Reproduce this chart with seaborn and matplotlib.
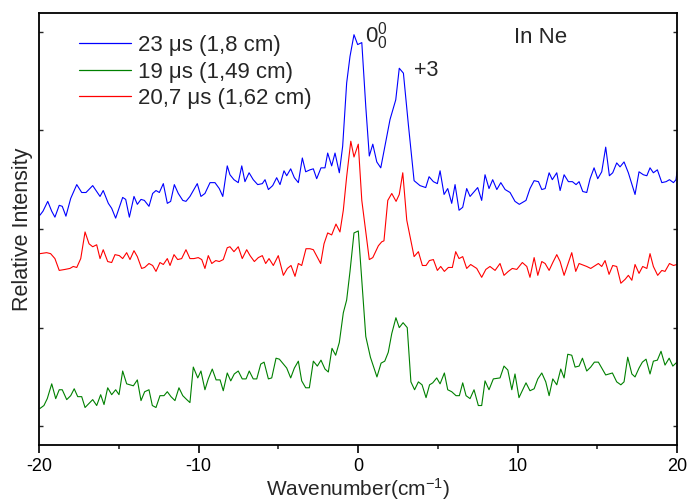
import matplotlib
matplotlib.use("Agg")
import matplotlib.pyplot as plt
from matplotlib.lines import Line2D
import numpy as np
import pandas as pd
import seaborn as sns

# ---------------- data ----------------
labels = ["23 \u03bcs (1,8 cm)", "19 \u03bcs (1,49 cm)", "20,7 \u03bcs (1,62 cm)"]
colors = ["#0000FF", "#008000", "#FF0000"]

blue_x = [-19.96, -19.77, -19.47, -19.22, -19.02, -18.75, -18.56, -18.33, -18.03, -17.65,
          -17.34, -17.07, -16.65, -16.19, -15.99, -15.67, -15.46, -15.21, -14.77, -14.58,
          -14.35, -14.06, -13.85, -13.62, -13.41, -13.12, -12.89, -12.68, -12.47, -12.22,
          -11.97, -11.76, -11.53, -11.28, -11.00, -10.80, -10.55, -10.09, -9.86, -9.61,
          -9.29, -8.98, -8.71, -8.49, -8.21, -8.04, -7.79, -7.52, -7.30, -7.10,
          -6.84, -6.58, -6.30, -6.01, -5.84, -5.63, -5.36, -5.11, -4.90, -4.65,
          -4.48, -4.23, -4.00, -3.75, -3.50, -3.29, -3.02, -2.81, -2.60, -2.33,
          -2.08, -1.91, -1.66, -1.45, -1.18, -0.97, -0.72, -0.51, -0.26, -0.03,
          0.23, 0.48, 0.70, 0.92, 1.17, 1.42, 1.69, 2.00, 2.36, 2.58,
          2.84, 3.15, 3.51, 3.88, 4.24, 4.45, 4.72, 4.97, 5.14, 5.39,
          5.62, 5.87, 6.08, 6.33, 6.56, 6.81, 7.02, 7.50, 7.75, 7.96,
          8.21, 8.44, 8.70, 8.95, 9.22, 9.53, 9.84, 10.11, 10.53, 10.78,
          11.04, 11.31, 11.52, 11.73, 11.98, 12.18, 12.46, 12.67, 12.92, 13.19,
          13.44, 13.67, 13.86, 14.09, 14.34, 14.55, 14.80, 15.03, 15.28, 15.53,
          15.76, 15.97, 16.22, 16.43, 16.68, 16.95, 17.12, 17.37, 17.62, 17.89,
          18.11, 18.31, 18.52, 18.77, 19.05, 19.32, 19.53, 19.78, 19.94, 20.00]
blue_y = [2.14, 2.18, 2.28, 2.18, 2.12, 2.24, 2.23, 2.13, 2.31, 2.45,
          2.37, 2.37, 2.44, 2.33, 2.39, 2.26, 2.21, 2.11, 2.32, 2.30,
          2.12, 2.33, 2.25, 2.30, 2.29, 2.23, 2.36, 2.39, 2.37, 2.46,
          2.26, 2.28, 2.45, 2.36, 2.29, 2.28, 2.33, 2.46, 2.33, 2.36,
          2.47, 2.47, 2.41, 2.33, 2.64, 2.55, 2.50, 2.47, 2.64, 2.48,
          2.57, 2.50, 2.45, 2.46, 2.50, 2.40, 2.44, 2.52, 2.45, 2.59,
          2.54, 2.61, 2.52, 2.47, 2.72, 2.58, 2.60, 2.61, 2.51, 2.62,
          2.62, 2.77, 2.64, 2.77, 2.57, 2.84, 3.48, 3.75, 3.97, 3.87,
          3.89, 3.24, 2.74, 2.86, 2.68, 2.62, 2.85, 3.11, 3.31, 3.63,
          3.58, 3.06, 2.49, 2.44, 2.42, 2.53, 2.48, 2.46, 2.59, 2.35,
          2.41, 2.26, 2.45, 2.19, 2.22, 2.41, 2.33, 2.42, 2.29, 2.55,
          2.41, 2.50, 2.40, 2.47, 2.40, 2.37, 2.28, 2.25, 2.29, 2.41,
          2.49, 2.48, 2.40, 2.41, 2.57, 2.50, 2.57, 2.39, 2.55, 2.48,
          2.48, 2.45, 2.48, 2.38, 2.37, 2.51, 2.62, 2.51, 2.58, 2.83,
          2.54, 2.57, 2.67, 2.63, 2.68, 2.57, 2.48, 2.35, 2.58, 2.55,
          2.54, 2.62, 2.57, 2.60, 2.47, 2.48, 2.50, 2.47, 2.50, 2.58]

red_x = [-19.96, -19.54, -19.29, -19.02, -18.75, -18.39, -18.08, -17.87, -17.65, -17.40,
         -17.13, -16.88, -16.65, -16.40, -16.19, -15.99, -15.71, -15.46, -15.25, -14.98,
         -14.77, -14.52, -14.31, -14.06, -13.85, -13.58, -13.39, -13.12, -12.89, -12.68,
         -12.43, -12.22, -11.97, -11.80, -11.55, -11.32, -11.07, -10.80, -10.55, -10.30,
         -10.03, -9.81, -9.61, -9.40, -9.18, -8.93, -8.71, -8.46, -8.21, -8.04,
         -7.79, -7.52, -7.27, -6.99, -6.78, -6.51, -6.26, -6.01, -5.80, -5.59,
         -5.32, -5.01, -4.69, -4.44, -4.21, -3.96, -3.75, -3.54, -3.27, -3.02,
         -2.81, -2.35, -2.14, -1.91, -1.66, -1.39, -1.14, -0.93, -0.72, -0.46,
         -0.26, 0.01, 0.23, 0.70, 0.92, 1.27, 1.48, 1.62, 1.86, 2.11,
         2.38, 2.58, 2.80, 3.05, 3.51, 3.78, 4.03, 4.26, 4.47, 4.72,
         4.97, 5.18, 5.41, 5.66, 5.91, 6.12, 6.33, 6.56, 6.81, 7.06,
         7.44, 7.75, 8.01, 8.27, 8.59, 8.90, 9.15, 9.42, 9.67, 9.95,
         10.30, 10.58, 10.78, 11.04, 11.27, 11.52, 11.73, 11.98, 12.21, 12.46,
         12.67, 12.92, 13.13, 13.40, 13.65, 13.86, 14.34, 14.59, 15.07, 15.28,
         15.49, 15.74, 15.97, 16.22, 16.48, 16.75, 16.95, 17.17, 17.37, 17.62,
         17.85, 18.11, 18.31, 18.52, 18.79, 19.05, 19.25, 19.53, 19.78, 20.00]
red_y = [1.75, 1.76, 1.75, 1.70, 1.58, 1.59, 1.60, 1.62, 1.61, 1.70,
         1.97, 1.85, 1.82, 1.84, 1.70, 1.79, 1.67, 1.66, 1.74, 1.73,
         1.70, 1.76, 1.69, 1.78, 1.72, 1.60, 1.61, 1.65, 1.63, 1.57,
         1.66, 1.64, 1.70, 1.63, 1.74, 1.69, 1.70, 1.79, 1.70, 1.70,
         1.71, 1.69, 1.60, 1.73, 1.65, 1.68, 1.67, 1.69, 1.81, 1.82,
         1.77, 1.82, 1.70, 1.79, 1.73, 1.67, 1.71, 1.73, 1.65, 1.70,
         1.63, 1.73, 1.53, 1.60, 1.63, 1.52, 1.65, 1.63, 1.80, 1.80,
         1.79, 1.65, 1.85, 1.96, 1.94, 2.05, 1.97, 2.19, 2.53, 2.89,
         2.73, 2.86, 2.29, 1.69, 1.71, 1.83, 1.87, 1.88, 2.29, 2.36,
         2.28, 2.35, 2.57, 2.09, 1.72, 1.77, 1.63, 1.63, 1.68, 1.69,
         1.58, 1.62, 1.57, 1.61, 1.61, 1.77, 1.70, 1.72, 1.60, 1.64,
         1.60, 1.51, 1.59, 1.62, 1.58, 1.65, 1.53, 1.57, 1.60, 1.59,
         1.66, 1.62, 1.51, 1.71, 1.53, 1.67, 1.65, 1.58, 1.66, 1.74,
         1.67, 1.53, 1.63, 1.76, 1.57, 1.65, 1.62, 1.60, 1.65, 1.62,
         1.68, 1.54, 1.63, 1.62, 1.45, 1.49, 1.53, 1.48, 1.64, 1.55,
         1.62, 1.60, 1.75, 1.62, 1.53, 1.58, 1.57, 1.65, 1.63, 1.64]

green_x = [-19.96, -19.71, -19.50, -19.22, -18.97, -18.75, -18.56, -18.28, -18.03, -17.81,
           -17.59, -17.34, -17.13, -16.65, -16.40, -16.15, -15.94, -15.71, -15.46, -15.21,
           -15.00, -14.77, -14.52, -14.10, -13.85, -13.62, -13.39, -13.12, -12.91, -12.68,
           -12.43, -12.18, -11.97, -11.74, -11.49, -11.24, -11.00, -10.75, -10.55, -10.34,
           -10.06, -9.86, -9.61, -9.40, -9.15, -8.91, -8.66, -8.46, -8.21, -7.99,
           -7.77, -7.52, -7.27, -7.03, -6.83, -6.58, -6.36, -6.11, -5.90, -5.63,
           -5.42, -5.15, -4.94, -4.48, -4.23, -4.00, -3.75, -3.54, -3.29, -3.06,
           -2.81, -2.56, -2.33, -2.08, -1.87, -1.64, -1.41, -1.18, -0.93, -0.72,
           -0.51, -0.26, 0.01, 0.23, 0.48, 0.77, 1.18, 1.44, 1.67, 1.89,
           2.11, 2.37, 2.58, 2.82, 3.08, 3.31, 3.54, 3.78, 4.01, 4.26,
           4.48, 4.68, 4.93, 5.14, 5.41, 5.62, 5.87, 6.14, 6.35, 6.56,
           6.77, 7.02, 7.27, 7.54, 7.75, 7.96, 8.21, 8.48, 8.90, 9.15,
           9.39, 9.64, 9.84, 10.09, 10.53, 10.78, 11.04, 11.27, 11.52, 11.77,
           11.98, 12.21, 12.46, 12.71, 12.92, 13.15, 13.40, 13.61, 13.86, 14.07,
           14.34, 14.59, 14.82, 15.07, 15.53, 15.95, 16.22, 16.48, 16.68, 16.91,
           17.17, 17.37, 17.62, 17.83, 18.06, 18.31, 18.52, 18.77, 19.00, 19.25,
           19.51, 19.74, 20.00]
green_y = [0.18, 0.21, 0.28, 0.43, 0.28, 0.37, 0.37, 0.27, 0.31, 0.38,
           0.30, 0.30, 0.19, 0.27, 0.21, 0.32, 0.22, 0.39, 0.32, 0.37,
           0.32, 0.56, 0.43, 0.41, 0.47, 0.26, 0.35, 0.37, 0.21, 0.19,
           0.31, 0.31, 0.35, 0.30, 0.26, 0.39, 0.31, 0.27, 0.24, 0.60,
           0.49, 0.56, 0.37, 0.48, 0.58, 0.47, 0.47, 0.36, 0.54, 0.46,
           0.53, 0.56, 0.48, 0.48, 0.56, 0.48, 0.48, 0.63, 0.65, 0.48,
           0.49, 0.69, 0.68, 0.59, 0.49, 0.59, 0.66, 0.46, 0.39, 0.39,
           0.66, 0.61, 0.67, 0.58, 0.55, 0.79, 0.72, 0.85, 1.15, 1.28,
           1.57, 1.96, 1.98, 1.48, 0.91, 0.70, 0.50, 0.64, 0.66, 0.75,
           0.94, 1.10, 1.00, 1.05, 1.00, 0.45, 0.37, 0.45, 0.42, 0.29,
           0.42, 0.44, 0.49, 0.43, 0.54, 0.37, 0.35, 0.31, 0.31, 0.44,
           0.31, 0.28, 0.37, 0.21, 0.21, 0.46, 0.37, 0.48, 0.49, 0.61,
           0.57, 0.37, 0.53, 0.29, 0.44, 0.36, 0.38, 0.48, 0.54, 0.45,
           0.31, 0.48, 0.42, 0.58, 0.49, 0.73, 0.72, 0.60, 0.61, 0.69,
           0.56, 0.60, 0.65, 0.65, 0.52, 0.54, 0.45, 0.42, 0.45, 0.70,
           0.53, 0.50, 0.59, 0.65, 0.68, 0.53, 0.66, 0.67, 0.76, 0.62,
           0.69, 0.61, 0.65]

x_ticks = [-20, -10, 0, 10, 20]
x_minor = [-15, -5, 5, 15]
y_ticks = [0, 1, 2, 3, 4]

# ---------------- figure ----------------
sns.set_style("ticks")
plt.rcParams["font.family"] = ["Liberation Sans", "DejaVu Sans"]
plt.rcParams["mathtext.fontset"] = "custom"
plt.rcParams["mathtext.rm"] = "Liberation Sans"
plt.rcParams["mathtext.it"] = "Liberation Sans"

df = pd.concat([
    pd.DataFrame({"Wavenumber": blue_x, "Intensity": blue_y, "series": labels[0]}),
    pd.DataFrame({"Wavenumber": green_x, "Intensity": green_y, "series": labels[1]}),
    pd.DataFrame({"Wavenumber": red_x, "Intensity": red_y, "series": labels[2]}),
], ignore_index=True)

fig = plt.figure(figsize=(6.87, 5.04), dpi=100)
ax = fig.add_axes([0.0572, 0.1171, 0.9282, 0.8571])

sns.lineplot(data=df, x="Wavenumber", y="Intensity", hue="series",
             hue_order=labels, palette=colors, estimator=None, sort=False,
             linewidth=0.8, legend=False, ax=ax)

ax.set_xlim(-20, 20)
ax.set_ylim(-0.19, 4.19)
ax.set_xticks(x_ticks)
ax.set_xticklabels([str(t) for t in x_ticks])
ax.set_xticks(x_minor, minor=True)
ax.set_yticks(y_ticks)
ax.set_yticklabels([])

for sp in ax.spines.values():
    sp.set_visible(True)
    sp.set_linewidth(1.3)
    sp.set_color("black")

ax.tick_params(axis="x", which="major", direction="out", length=5.5, width=1.2,
               labelsize=13, pad=4, colors="black")
ax.tick_params(axis="x", which="minor", direction="out", length=3, width=1.2)
ax.tick_params(axis="y", which="major", direction="in", length=3, width=1.0,
               left=True, right=True)

ax.set_xlabel("Wavenumber(cm$^{-1}$)", fontsize=15, labelpad=1)
ax.set_ylabel("Relative Intensity", fontsize=15.5, labelpad=1)

handles = [Line2D([0], [0], color=c, linewidth=0.9) for c in colors]
ax.legend(handles, labels, loc="upper left", bbox_to_anchor=(0.062, 0.949),
          frameon=False, handlelength=2.35, handletextpad=0.3,
          labelspacing=0.25, borderpad=0, borderaxespad=0,
          prop={"family": ["Liberation Sans", "DejaVu Sans"], "size": 16})

ax.text(0.43, 3.96, r"$0_0^0$", fontsize=16, ha="left", va="center")
ax.text(3.51, 3.61, "+3", fontsize=15.5, ha="left", va="center")
ax.text(9.78, 3.94, "In Ne", fontsize=16, ha="left", va="center")

fig.savefig("out.png", dpi=100)
